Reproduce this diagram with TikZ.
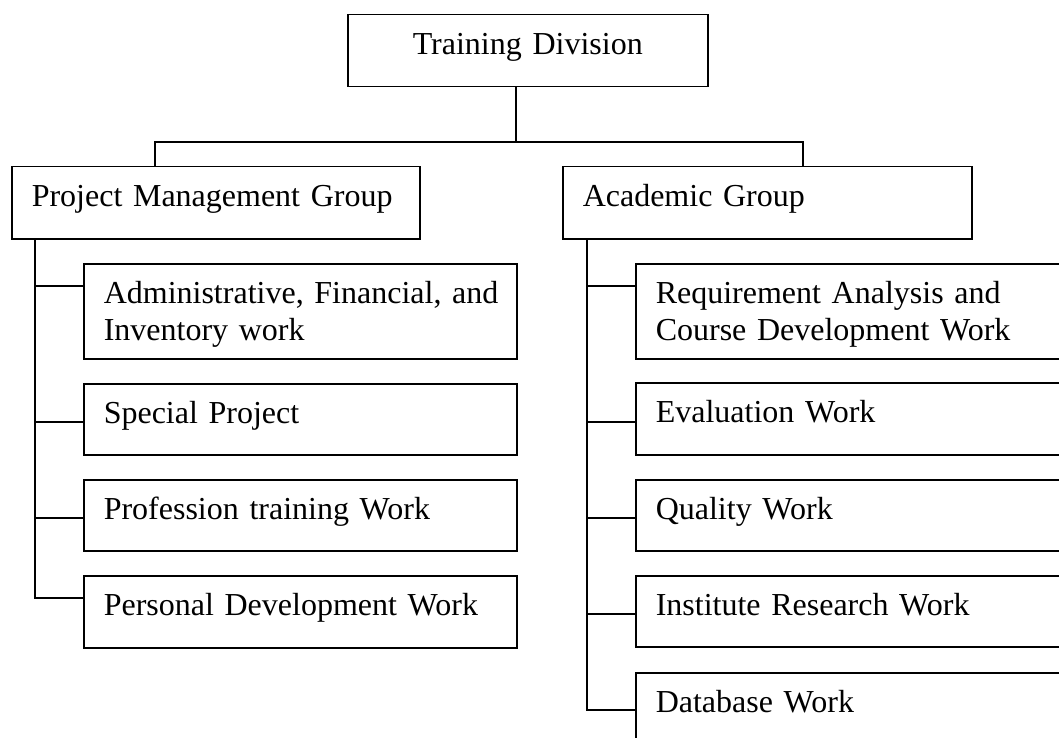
\documentclass[tikz,border=0pt]{standalone}
\usepackage{fontspec}
\setmainfont{Liberation Serif}
\begin{document}
\begin{tikzpicture}[x=1pt,y=-1pt, line width=1.5pt,
  box/.style={draw, anchor=north west, inner xsep=20pt, inner ysep=0pt,
    text height=40pt, align=left, font=\fontsize{32}{37}\selectfont},
  lbox/.style={box, text width=393pt},
  rbox/.style={box, text width=405pt}
]
\useasboundingbox (0,0) rectangle (1059,738);
\clip (0,0) rectangle (1059,738);

\node[box, align=center, text width=320pt, text depth=32pt] (td) at (347,14) {Training Division};
\node[box, text width=368pt, text depth=32pt] (pmg) at (11,166) {Project Management Group};
\node[box, text width=369pt, text depth=32pt] (ag) at (562,166) {Academic Group};

\node[lbox, text depth=55pt] (adm) at (83,263) {\mbox{Administrative, Financial, and}\\Inventory work};
\node[lbox, text depth=31pt] (sp) at (83,383) {Special Project};
\node[lbox, text depth=31pt] (pt) at (83,479) {Profession training Work};
\node[lbox, text depth=32pt] (pd) at (83,575) {Personal Development Work};

\node[rbox, text depth=55pt] (req) at (635,263) {Requirement Analysis and\\Course Development Work};
\node[rbox, text depth=32pt] (ev) at (635,382) {Evaluation Work};
\node[rbox, text depth=31pt] (qw) at (635,479) {Quality Work};
\node[rbox, text depth=31pt] (ir) at (635,575) {Institute Research Work};
\node[rbox, text depth=33pt] (db) at (635,672) {Database Work};

\coordinate (busL) at (155,142);
\coordinate (busR) at (803,142);
\coordinate (spL) at (35,0);
\coordinate (spR) at (587,0);

\draw ([xshift=-12pt]td.south) -- ([xshift=-12pt]td.south |- busL);
\draw (pmg.north -| busL) -- (busL) -- (busR) -- (ag.north -| busR);

\draw (pmg.south -| spL) |- ([yshift=-23pt]pd.north west);
\foreach \n/\d in {adm/23, sp/39, pt/39}
  \draw ([yshift=-\d pt]\n.north west) -- ([yshift=-\d pt]\n.north west -| spL);

\draw (ag.south -| spR) |- ([yshift=-38pt]db.north west);
\foreach \n/\d in {req/23, ev/40, qw/39, ir/39}
  \draw ([yshift=-\d pt]\n.north west) -- ([yshift=-\d pt]\n.north west -| spR);
\end{tikzpicture}
\end{document}
